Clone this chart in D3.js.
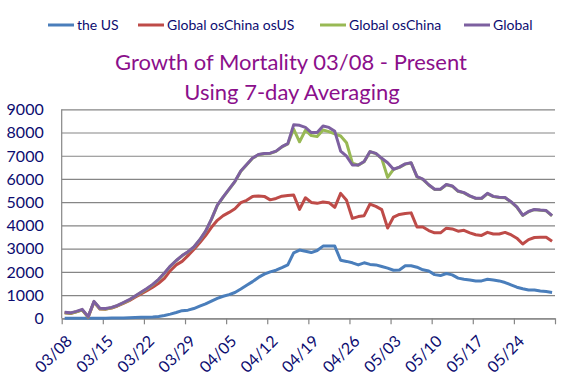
<!DOCTYPE html>
<html>
<head>
<meta charset="utf-8">
<script src="https://cdn.jsdelivr.net/npm/d3@7"></script>
<style>
  body { margin: 0; background: #fff; }
  text { font-family: Lato, "Liberation Sans", sans-serif; }
</style>
</head>
<body>
<div id="viz"></div>
<script>
// one value per day, 03/08 .. 05/30 (7-day averages)
const tickLabels = ['03/08', '03/15', '03/22', '03/29', '04/05', '04/12', '04/19', '04/26', '05/03', '05/10', '05/17', '05/24'];
const yTicks = [0, 1000, 2000, 3000, 4000, 5000, 6000, 7000, 8000, 9000];

const theUS = [0, 0, 0, 0, 0, 5, 5, 5, 10, 10, 15, 20, 30, 40, 50, 60, 80, 120, 180, 250,
  330, 350, 420, 520, 620, 740, 860, 950, 1020, 1110, 1260, 1420, 1580, 1760, 1900, 2000, 2070, 2180, 2300, 2820,
  2940, 2890, 2830, 2920, 3110, 3110, 3110, 2500, 2450, 2390, 2300, 2390, 2320, 2300, 2230, 2160, 2070, 2080, 2260, 2260,
  2200, 2090, 2040, 1880, 1840, 1930, 1870, 1730, 1680, 1650, 1610, 1610, 1680, 1650, 1610, 1540, 1440, 1340, 1270, 1220,
  1220, 1180, 1150, 1110];

const osChinaOsUS = [235, 210, 275, 360, 50, 700, 400, 395, 445, 530, 645, 760, 910, 1050, 1190, 1340, 1510, 1720, 2050, 2300,
  2450, 2700, 2960, 3250, 3560, 3920, 4220, 4420, 4560, 4720, 4980, 5080, 5250, 5270, 5250, 5100, 5160, 5260, 5290, 5310,
  4690, 5190, 4990, 4950, 5010, 4980, 4780, 5380, 5080, 4300, 4380, 4420, 4920, 4820, 4680, 3890, 4360, 4470, 4510, 4540,
  3930, 3930, 3780, 3680, 3680, 3880, 3850, 3750, 3790, 3680, 3600, 3570, 3700, 3630, 3630, 3700, 3600, 3450, 3200, 3390,
  3480, 3490, 3490, 3320];

const osChina = [240, 215, 280, 365, 55, 710, 410, 400, 455, 545, 665, 785, 945, 1105, 1265, 1445, 1665, 1935, 2240, 2480,
  2690, 2860, 3060, 3370, 3740, 4260, 4860, 5220, 5550, 5890, 6330, 6610, 6890, 7040, 7090, 7100, 7190, 7380, 7510, 8150,
  7600, 8100, 7870, 7830, 8110, 8040, 7940, 7850, 7560, 6680, 6590, 6740, 7170, 7090, 6880, 6070, 6410, 6500, 6640, 6690,
  6090, 5980, 5740, 5550, 5550, 5750, 5690, 5470, 5400, 5260, 5160, 5160, 5370, 5240, 5200, 5190, 5010, 4790, 4430, 4590,
  4680, 4650, 4630, 4410];

const globalAll = [260, 235, 300, 385, 70, 730, 430, 420, 470, 560, 680, 800, 960, 1120, 1280, 1460, 1680, 1950, 2250, 2490,
  2700, 2870, 3070, 3380, 3750, 4270, 4870, 5230, 5560, 5900, 6340, 6620, 6900, 7050, 7100, 7110, 7200, 7390, 7520, 8330,
  8310, 8220, 8000, 8000, 8280, 8220, 8050, 7200, 6980, 6600, 6600, 6750, 7180, 7100, 6890, 6700, 6420, 6510, 6650, 6700,
  6100, 5990, 5750, 5560, 5560, 5760, 5700, 5480, 5410, 5270, 5170, 5170, 5380, 5250, 5210, 5200, 5020, 4800, 4440, 4600,
  4690, 4660, 4640, 4420];

const seriesNames = ['the US', 'Global osChina osUS', 'Global osChina', 'Global'];
const seriesColors = ['#4a7ebb', '#be4b48', '#98b954', '#7d60a0'];
const seriesData = [theUS, osChinaOsUS, osChina, globalAll];

let width = 580, height = 389;
let margin = { top: 109.3, right: 25, bottom: 70.7, left: 61.7 };
let innerW = width - margin.left - margin.right;
let innerH = height - margin.top - margin.bottom;

let svg = d3.select("#viz").append("svg")
  .attr("width", width)
  .attr("height", height);

let g = svg.append("g")
  .attr("transform", `translate(${margin.left},${margin.top})`);

// 84 days, one tick a week; points sit between the ticks
let xScale = d3.scaleLinear().domain([0, 84]).range([0, innerW]);
let yScale = d3.scaleLinear().domain([0, 9000]).range([innerH, 0]);

// grid
g.append("g")
  .attr("class", "grid")
  .call(d3.axisLeft(yScale).tickValues(yTicks).tickSize(-innerW).tickFormat(""))
  .call(s => s.select(".domain").remove())
  .selectAll("line").attr("stroke", "#868686").attr("stroke-width", 1.2);

// y labels
g.append("g")
  .selectAll("text")
  .data(yTicks)
  .enter().append("text")
  .attr("x", -18)
  .attr("y", d => yScale(d))
  .attr("dy", "0.36em")
  .attr("text-anchor", "end")
  .attr("fill", "#0c0c70")
  .style("font-size", "16px")
  .text(d => d);

// y axis line
g.append("line")
  .attr("x1", 0).attr("x2", 0)
  .attr("y1", 0).attr("y2", innerH)
  .attr("stroke", "#868686").attr("stroke-width", 1.2);

// x axis
let xAxis = g.append("g")
  .attr("transform", `translate(0,${innerH})`)
  .call(d3.axisBottom(xScale)
    .tickValues(d3.range(0, 85, 7))
    .tickFormat((d, i) => tickLabels[i] || "")
    .tickSizeInner(6)
    .tickSizeOuter(0));
xAxis.select(".domain").attr("stroke", "#868686").attr("stroke-width", 1.2);
xAxis.selectAll("line").attr("stroke", "#868686").attr("stroke-width", 1.2);
xAxis.selectAll("text")
  .attr("y", 0).attr("x", 0).attr("dy", "0.35em")
  .attr("transform", "translate(7,20) rotate(-45)")
  .style("text-anchor", "end")
  .style("font-size", "16px")
  .style("font-family", "Lato, 'Liberation Sans', sans-serif")
  .attr("fill", "#0c0c70");

// lines
let line = d3.line()
  .x((d, i) => xScale(i + 0.5))
  .y(d => yScale(d));

seriesData.forEach((s, k) => {
  g.append("path")
    .datum(s)
    .attr("fill", "none")
    .attr("stroke", seriesColors[k])
    .attr("stroke-width", 3)
    .attr("stroke-linejoin", "round")
    .attr("d", line);
});

// legend
let legendX = [48, 138, 320, 464];
seriesNames.forEach((name, k) => {
  svg.append("line")
    .attr("x1", legendX[k]).attr("x2", legendX[k] + 26)
    .attr("y1", 25).attr("y2", 25)
    .attr("stroke", seriesColors[k])
    .attr("stroke-width", 3);
  svg.append("text")
    .attr("x", legendX[k] + 29)
    .attr("y", 25)
    .attr("dy", "0.35em")
    .attr("fill", "#0c0c70")
    .style("font-size", "14px")
    .text(name);
});

// title
svg.append("text")
  .attr("x", 291).attr("y", 70)
  .attr("text-anchor", "middle")
  .attr("fill", "#8b0f8b")
  .style("font-size", "22px")
  .text("Growth of Mortality 03/08 - Present");
svg.append("text")
  .attr("x", 292).attr("y", 99.5)
  .attr("text-anchor", "middle")
  .attr("fill", "#8b0f8b")
  .style("font-size", "22px")
  .text("Using 7-day Averaging");
</script>
</body>
</html>
